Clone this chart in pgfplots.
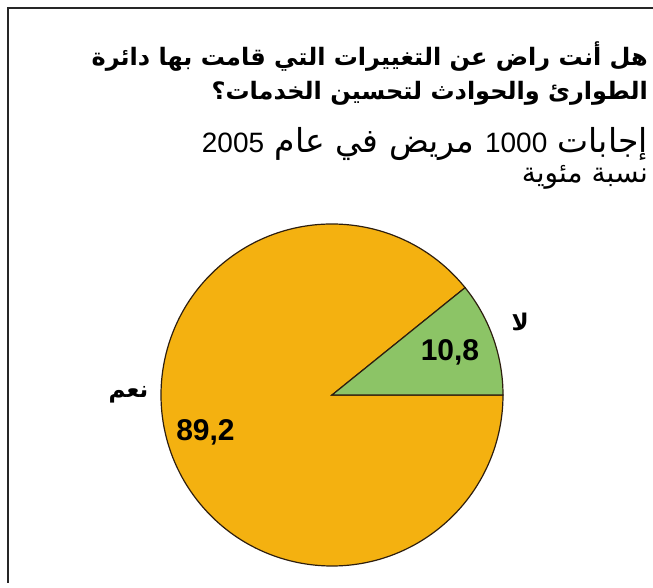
\documentclass[border=0pt]{standalone}
\usepackage{fontspec}
\usepackage{pgfplots}
\usepackage{pgfplotstable}
\pgfplotsset{compat=1.18}
\setmainfont{Liberation Sans}
\newfontfamily\arabicfont[Script=Arabic]{DejaVu Sans}
\TeXXeTstate=1

\definecolor{pieyes}{RGB}{244,177,16}
\definecolor{pieno}{RGB}{140,196,102}
\definecolor{pieedge}{RGB}{45,30,15}

% answers of 1000 patients, per cent
\pgfplotstableread{
answer value
no     10.8
yes    89.2
}\answers

\begin{document}
\begin{tikzpicture}
\begin{scope}[x=1pt,y=1pt]
\path[use as bounding box] (0,0) rectangle (653,583);
\draw[line width=1.5pt,black!85] (8,0) -- (8,575) -- (653,575);

% title
\node[anchor=east,inner sep=0pt] at (648,526) {\arabicfont\bfseries\fontsize{24}{28}\selectfont\beginR هل أنت راض عن التغييرات التي قامت بها دائرة\endR};
\node[anchor=east,inner sep=0pt] at (648,490) {\arabicfont\bfseries\fontsize{24}{28}\selectfont\beginR الطوارئ والحوادث لتحسين الخدمات؟\endR};
% subtitle
\node[anchor=east,inner sep=0pt] at (648,439) {\arabicfont\fontsize{33}{36}\selectfont\beginR إجابات {\rmfamily\fontsize{28}{30}\selectfont\beginL 1000\endL} مريض في عام {\rmfamily\fontsize{28}{30}\selectfont\beginL 2005\endL}\endR};
\node[anchor=east,inner sep=0pt] at (648,406) {\arabicfont\fontsize{28}{32}\selectfont\beginR نسبة مئوية\endR};
\end{scope}

\pgfplotstablegetelem{0}{value}\of\answers
\let\vNo\pgfplotsretval
\pgfmathsetmacro{\aNo}{3.6*\vNo}

\begin{axis}[
  at={(332pt,188pt)},anchor=center,
  scale only axis,width=342pt,height=342pt,
  xmin=-1,xmax=1,ymin=-1,ymax=1,
  hide axis,clip=false]
\filldraw[fill=pieyes,draw=pieedge,line width=1.2pt]
  (axis cs:0,0) -- (axis cs:{cos(\aNo)},{sin(\aNo)})
  arc[start angle=\aNo,end angle=360,radius=171pt] -- cycle;
\filldraw[fill=pieno,draw=pieedge,line width=1.2pt]
  (axis cs:0,0) -- (axis cs:1,0)
  arc[start angle=0,end angle=\aNo,radius=171pt] -- cycle;
\node[font=\bfseries\fontsize{30}{34}\selectfont] at (axis cs:0.69,0.25) {10,8};
\node[font=\bfseries\fontsize{30}{34}\selectfont] at (axis cs:-0.74,-0.22) {89,2};
\node at (axis cs:1.10,0.43) {\arabicfont\bfseries\fontsize{23}{26}\selectfont\beginR لا\endR};
\node at (axis cs:-1.19,0.0) {\arabicfont\bfseries\fontsize{23}{26}\selectfont\beginR نعم\endR};
\end{axis}
\end{tikzpicture}
\end{document}
